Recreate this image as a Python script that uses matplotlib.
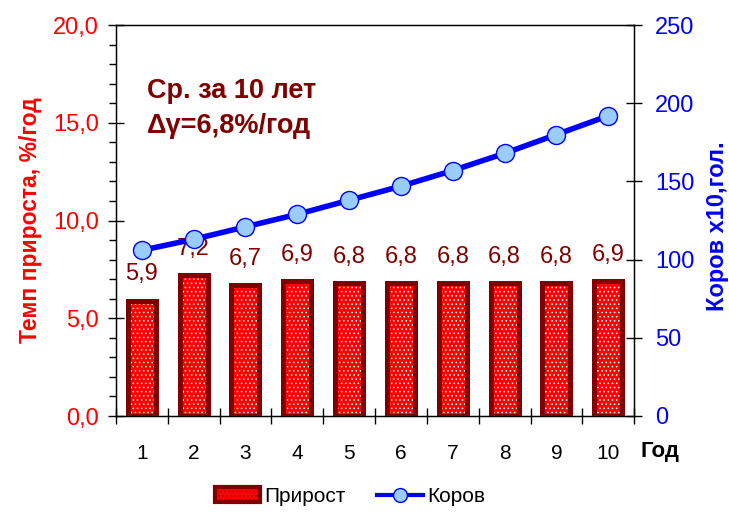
import numpy as np
import matplotlib
matplotlib.use('Agg')
from matplotlib import pyplot as plt
from matplotlib.patches import Patch
from matplotlib.lines import Line2D
from matplotlib.ticker import MultipleLocator, FuncFormatter

plt.rcParams['font.family'] = ['Liberation Sans', 'DejaVu Sans']
plt.rcParams['hatch.linewidth'] = 0.6

years = [1, 2, 3, 4, 5, 6, 7, 8, 9, 10]
growth = [5.9, 7.2, 6.7, 6.9, 6.8, 6.8, 6.8, 6.8, 6.8, 6.9]
cows = [106, 113, 121, 129, 138, 147, 157, 168, 180, 192]
growth_labels = ['5,9', '7,2', '6,7', '6,9', '6,8', '6,8', '6,8', '6,8', '6,8', '6,9']

DARK = '#800000'
RED = '#FF0000'
BLUE = '#0000FF'

fig = plt.figure(figsize=(7.29, 5.12), dpi=100)
ax = fig.add_axes([0.159, 0.1875, 0.711, 0.7635])

# bars: white dot hatch on red, then thick dark red outline
ax.bar(years, growth, width=0.54, color=RED, edgecolor='white', hatch='....', linewidth=0, zorder=2)
ax.bar(years, growth, width=0.54, color='none', edgecolor=DARK, linewidth=3.6, zorder=3)
for x, v, lab in zip(years, growth, growth_labels):
    ax.annotate(lab, (x, v), xytext=(0, 11), textcoords='offset points',
                ha='center', va='bottom', color=DARK, fontsize=17)

ax.set_xlim(0.5, 10.5)
ax.set_ylim(0, 20)
ax.set_xticks(years)
ax.set_xticks(np.arange(0.5, 11, 1), minor=True)
ax.tick_params(axis='x', which='major', length=0, pad=20, labelsize=15)
ax.tick_params(axis='x', which='minor', direction='inout', length=11, width=1)
ax.yaxis.set_major_locator(MultipleLocator(5))
ax.yaxis.set_minor_locator(MultipleLocator(1))
ax.yaxis.set_major_formatter(FuncFormatter(lambda v, p: f'{v:.1f}'.replace('.', ',')))
ax.tick_params(axis='y', which='major', direction='inout', length=12, width=1,
               labelcolor=RED, labelsize=17, pad=6)
ax.tick_params(axis='y', which='minor', direction='out', length=5, width=1)
ax.set_ylabel('Темп прироста, %/год', color=RED, fontsize=16.5, fontweight='bold', labelpad=8)
for sp in ax.spines.values():
    sp.set_linewidth(1)

ax.text(0.06, 0.865, 'Ср. за 10 лет\nΔγ=6,8%/год', transform=ax.transAxes,
        ha='left', va='top', color=DARK, fontsize=19.5, fontweight='bold', linespacing=1.45)
ax.text(1.012, -0.092, 'Год', transform=ax.transAxes, ha='left', va='center',
        fontsize=16, fontweight='bold')

ax2 = ax.twinx()
ax2.plot(years, cows, color=BLUE, linewidth=4, marker='o', markersize=13,
         markerfacecolor='#99CCFF', markeredgecolor=BLUE, markeredgewidth=1, zorder=4)
ax2.set_ylim(0, 250)
ax2.yaxis.set_major_locator(MultipleLocator(50))
ax2.tick_params(axis='y', direction='inout', length=12, width=1,
                labelcolor=BLUE, labelsize=17, pad=9)
ax2.set_ylabel('Коров х10,гол.', color=BLUE, fontsize=17, fontweight='bold')
ax2.yaxis.set_label_coords(1.138, 0.486)

handles = [Patch(facecolor=RED, edgecolor=DARK, linewidth=3, hatch='....'),
           Line2D([], [], color=BLUE, linewidth=3, marker='o', markersize=10,
                  markerfacecolor='#99CCFF', markeredgecolor=BLUE)]
fig.legend(handles, ['Прирост', 'Коров'], loc='lower center', bbox_to_anchor=(0.48, -0.025),
           ncol=2, frameon=False, fontsize=15, handlelength=2.2, handletextpad=0.2,
           columnspacing=1.5)

fig.savefig('out.png', dpi=100)
